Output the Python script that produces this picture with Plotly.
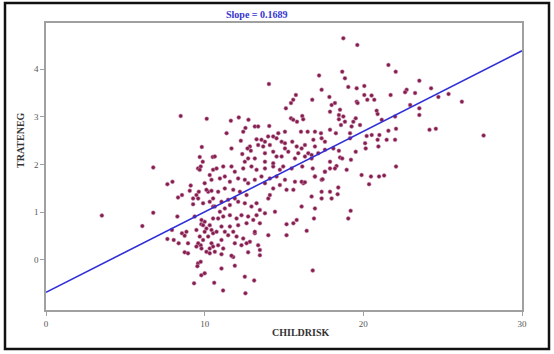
import plotly.graph_objects as go

# CHILDRISK / TRATENEG observations
childrisk = [
    # sparse left side
    3.52, 6.76, 7.65, 7.97, 6.76, 6.07, 8.32, 8.57, 9.12, 9.06, 9.27, 9.63, 9.58, 9.75, 10.0, 10.32,
    10.43, 10.22, 10.53, 8.28, 9.37, 7.94, 7.65, 8.05, 8.36, 8.57, 8.74, 8.85, 8.95, 8.74, 9.79, 10.0,
    10.11, 10.32, 10.43, 9.69, 9.9, 9.75, 10.22, 10.43, 10.32, 10.0, 10.53,
    8.49, 10.13, 9.82, 9.69, 9.88, 10.51,
    9.69, 10.53, 9.48, 10.11, 10.43, 10.32, 9.9, 9.59, 9.27, 10.53, 10.53, 9.9, 9.8, 9.48, 9.59, 9.8,
    10.11, 10.53, 10.32, 9.48, 8.95,
    # below zero
    9.58, 9.75, 9.54, 9.79, 10.0, 9.33, 10.6, 11.16, 12.57, 11.06, 11.9, 12.53, 13.12, 11.8, 16.81,
    # central cluster, lower half
    10.75, 11.17, 11.69, 11.9, 12.43, 12.95, 13.27, 13.8, 14.32, 14.74, 14.95, 15.48, 16.15, 16.81,
    16.95, 17.37, 17.9, 17.58, 10.96, 11.27, 11.59, 12.11, 12.53, 12.74, 13.16, 13.58, 14.11, 14.53,
    15.06, 15.69, 16.22, 14.74, 15.16, 15.59, 14.32, 13.8, 17.37, 17.9, 17.37, 18.0, 16.74, 16.11,
    16.95, 16.89, 16.43, 15.59, 15.16, 15.8, 14.01, 15.16, 13.16, 10.85, 11.27, 11.8, 12.22, 12.64,
    11.9, 11.48, 11.06, 10.64, 10.96, 11.27, 11.59, 12.11, 12.53, 12.95, 13.27, 13.48, 13.8, 14.01,
    14.11, 14.43, 10.85, 11.17, 11.59, 12.01, 12.32, 12.74, 13.06, 13.27, 13.48, 12.64, 12.11, 11.59,
    11.06, 10.75, 11.27, 11.8, 12.01, 12.43, 12.85, 13.16, 12.64, 12.32, 11.9, 11.48, 11.06, 10.85,
    11.17, 10.64, 11.06, 11.69, 12.74, 13.37, 13.48, 13.48,
    # central cluster, upper half
    17.21, 14.05, 17.37, 15.75, 16.78, 15.58, 15.44, 15.12, 17.86, 18.0, 17.9, 16.15, 16.21, 15.44,
    15.58, 15.82, 11.65, 12.15, 12.76, 12.57, 13.16, 13.37, 14.07, 12.43, 11.38, 15.06, 14.64, 16.07,
    16.49, 16.95, 17.33, 17.9, 14.0, 14.32, 14.53, 13.27, 13.58, 13.8, 12.28, 12.85, 12.7, 11.69,
    13.37, 13.69, 14.11, 14.85, 15.06, 15.52, 16.32, 16.85, 17.37, 17.58, 16.95, 15.8, 16.11, 15.06,
    12.91, 12.37, 13.8, 14.32, 15.27, 15.9, 16.53, 16.74, 17.16, 17.58, 18.11, 13.16, 12.74, 14.53,
    14.85, 15.69, 16.32, 16.74, 10.64, 12.53, 13.8, 14.32, 17.9,
    # right side
    18.74, 19.62, 21.58, 22.04, 18.67, 18.84, 20.06, 19.58, 19.05, 23.53, 24.27, 22.73, 22.63, 23.26,
    21.72, 20.06, 20.52, 20.69, 20.25, 24.73, 25.37, 26.21, 22.95, 23.53, 23.53, 19.58, 19.64, 20.84,
    20.9, 18.21, 18.53, 18.46, 18.74, 18.46, 19.52, 19.37, 18.84, 18.59, 19.26, 19.79, 21.16, 22.0,
    18.27, 19.16, 20.21, 20.53, 21.01, 21.58, 22.06, 24.17, 24.57, 19.16, 20.11, 20.9, 21.47, 22.0,
    20.15, 20.95, 19.52, 18.46, 18.53, 18.67, 19.22,
    19.89, 20.48, 20.99, 21.31, 20.36, 22.06, 16.11, 16.32, 16.95, 17.43, 17.58, 18.31, 18.95, 18.42,
    18.21, 18.38, 19.2, 19.05, 27.58,
]

trateneg = [
    # sparse left side
    0.93, 1.94, 1.59, 1.64, 0.99, 0.71, 1.31, 1.36, 1.56, 1.45, 1.29, 1.43, 1.92, 1.96, 1.61, 1.78,
    1.68, 1.43, 1.29, 0.91, 0.91, 0.63, 0.44, 0.42, 0.35, 0.56, 0.51, 0.59, 0.35, 0.16, 0.75, 0.80,
    0.66, 0.73, 0.63, 0.49, 0.42, 0.31, 0.49, 0.35, 0.24, 0.59, 0.87,
    3.02, 2.96, 2.37, 2.16, 2.06, 2.16,
    1.89, 1.89, 1.36, 1.47, 1.45, 1.22, 1.19, 1.29, 1.17, 1.12, 0.56, 0.73, 0.84, 0.63, 0.35, 0.24,
    0.17, 0.28, 0.14, 0.28, 0.14,
    # below zero
    -0.07, -0.04, -0.13, -0.32, -0.28, -0.49, -0.48, -0.64, -0.70, -0.18, -0.12, -0.35, -0.43, 0.06, -0.22,
    # central cluster, lower half
    1.92, 1.96, 1.96, 1.85, 1.92, 1.96, 1.89, 1.92, 1.96, 1.89, 1.96, 1.92, 1.96, 1.92,
    1.75, 1.68, 1.92, 1.85, 1.71, 1.75, 1.64, 1.71, 1.68, 1.61, 1.68, 1.75, 1.71, 1.75,
    1.68, 1.64, 1.61, 1.57, 1.47, 1.47, 1.50, 1.61, 1.43, 1.43, 1.29, 1.29, 1.33, 1.12,
    1.08, 0.87, 0.61, 0.77, 0.75, 0.84, 0.52, 0.52, 0.56, 1.43, 1.50, 1.47, 1.43, 1.36,
    1.29, 1.26, 1.22, 1.12, 1.01, 1.08, 1.15, 1.22, 1.19, 1.12, 1.19, 1.05, 0.98, 1.29,
    1.36, 1.01, 0.87, 0.91, 0.94, 0.87, 0.94, 0.91, 0.84, 0.94, 0.77, 0.77, 0.73, 0.70,
    0.70, 0.59, 0.59, 0.59, 0.49, 0.45, 0.38, 0.59, 0.35, 0.31, 0.35, 0.52, 0.42, 0.31,
    0.24, 0.17, 0.12, 0.09, 0.16, 0.31, 0.21, 0.10,
    # central cluster, upper half
    3.87, 3.69, 3.57, 3.46, 3.36, 3.36, 3.29, 3.18, 3.42, 3.25, 3.11, 3.02, 2.95, 2.97,
    2.94, 2.90, 2.92, 2.99, 2.94, 2.77, 2.80, 2.80, 2.81, 2.69, 2.66, 2.69, 2.66, 2.69,
    2.69, 2.69, 2.66, 2.73, 2.59, 2.59, 2.55, 2.53, 2.52, 2.48, 2.50, 2.38, 2.34, 2.34,
    2.41, 2.38, 2.41, 2.48, 2.45, 2.48, 2.41, 2.52, 2.55, 2.48, 2.38, 2.38, 2.34, 2.34,
    2.29, 2.22, 2.24, 2.27, 2.27, 2.24, 2.24, 2.20, 2.24, 2.31, 2.34, 2.13, 2.13, 2.17,
    2.17, 2.13, 2.17, 2.13, 2.17, 2.06, 2.06, 2.03, 2.06,
    # right side
    4.65, 4.51, 4.09, 3.95, 3.95, 3.81, 3.65, 3.60, 3.63, 3.76, 3.60, 3.57, 3.52, 3.50,
    3.46, 3.46, 3.45, 3.36, 3.36, 3.42, 3.48, 3.32, 3.25, 3.18, 3.04, 3.32, 3.29, 3.13,
    3.06, 3.29, 3.15, 3.04, 3.01, 2.95, 2.97, 2.90, 2.90, 2.83, 2.80, 2.83, 2.94, 3.01,
    2.66, 2.66, 2.60, 2.62, 2.62, 2.71, 2.75, 2.73, 2.75, 2.55, 2.45, 2.52, 2.52, 2.52,
    2.34, 2.38, 2.27, 2.29, 2.15, 2.13, 2.10,
    1.78, 1.75, 1.75, 1.77, 1.59, 1.96, 1.64, 1.63, 1.75, 1.69, 1.85, 1.97, 1.89, 1.52,
    1.92, 1.38, 1.03, 0.87, 2.61,
]

slope = 0.1689
intercept = -0.68
x_ticks = [0, 10, 20, 30]
y_ticks = [0, 1, 2, 3, 4]

W, H = 554, 354
ML, MR, MT, MB = 46, 32, 23, 44
PW, PH = W - ML - MR, H - MT - MB


def px(x):
    return (x - ML) / PW


def py(y):
    return (H - MB - y) / PH


serif = "Liberation Serif, Times New Roman, serif"

fig = go.Figure()

# reference line at zero
fig.add_shape(type="line", xref="x", yref="y", x0=0, x1=30, y0=0, y1=0,
              line=dict(color="#a8a8a8", width=1.5), layer="below")

fig.add_trace(go.Scatter(
    x=childrisk, y=trateneg, mode="markers",
    marker=dict(symbol="circle", size=4, color="rgb(132,28,78)",
                line=dict(color="rgba(205,150,180,0.65)", width=0.8)),
    hoverinfo="x+y", showlegend=False,
))

fit_x = [0, 30]
fit_y = [intercept + slope * v for v in fit_x]
fig.add_trace(go.Scatter(
    x=fit_x, y=fit_y, mode="lines",
    line=dict(color="#2f2fd8", width=1.6), showlegend=False, hoverinfo="skip",
))

axis_common = dict(
    showgrid=False, zeroline=False, showline=True, linecolor="#a0a0a0", linewidth=1.5,
    mirror=True, ticks="outside", ticklen=4, tickcolor="#a0a0a0", tickwidth=1,
    tickfont=dict(family=serif, size=9, color="#555555"),
)

fig.update_layout(
    width=W, height=H,
    margin=dict(l=ML, r=MR, t=MT, b=MB),
    paper_bgcolor="white", plot_bgcolor="white",
    xaxis=dict(range=[0, 30], tickvals=x_ticks, **axis_common),
    yaxis=dict(range=[-1.05, 4.97], tickvals=y_ticks, **axis_common),
    annotations=[
        dict(text="Slope = 0.1689", x=px(257), y=py(14), xref="paper", yref="paper",
             showarrow=False, font=dict(family=serif, size=10, color="#3535d0", weight="bold"),
             xanchor="center", yanchor="middle"),
        dict(text="CHILDRISK", x=px(300), y=py(332), xref="paper", yref="paper",
             showarrow=False, font=dict(family=serif, size=10, color="#333333", weight="bold"),
             xanchor="center", yanchor="middle"),
        dict(text="TRATENEG", x=px(20), y=py(140), xref="paper", yref="paper",
             showarrow=False, textangle=-90,
             font=dict(family=serif, size=10, color="#333333", weight="bold"),
             xanchor="center", yanchor="middle"),
    ],
    shapes=[
        dict(type="rect", xref="paper", yref="paper",
             x0=px(5), x1=px(549), y0=py(349), y1=py(3),
             line=dict(color="#111111", width=2.5), fillcolor="rgba(0,0,0,0)"),
    ],
)

fig.write_html("out.html")
